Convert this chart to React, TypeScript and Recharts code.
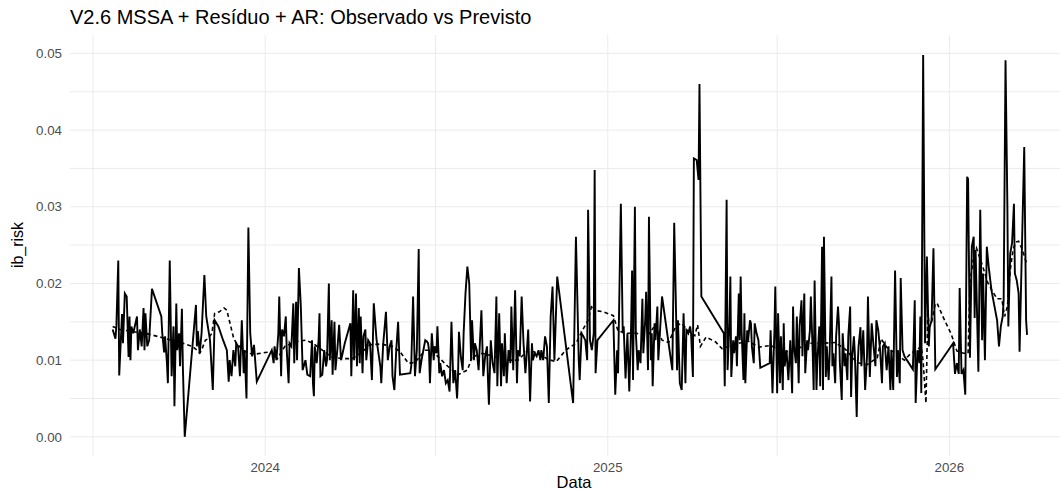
import { LineChart, Line, XAxis, YAxis, CartesianGrid } from 'recharts';

// série observada (ib_risk diário)
const datasObs = [
  '2023-07-22', '2023-07-25', '2023-07-26', '2023-07-28', '2023-07-29', '2023-08-01', '2023-08-02', '2023-08-04', '2023-08-06', '2023-08-08',
  '2023-08-09', '2023-08-10', '2023-08-11', '2023-08-13', '2023-08-17', '2023-08-18', '2023-08-20', '2023-08-22', '2023-08-24', '2023-08-25',
  '2023-08-26', '2023-08-28', '2023-08-30', '2023-09-02', '2023-09-12', '2023-09-13', '2023-09-15', '2023-09-16', '2023-09-18', '2023-09-19',
  '2023-09-21', '2023-09-23', '2023-09-25', '2023-09-26', '2023-09-28', '2023-09-29', '2023-10-01', '2023-10-02', '2023-10-04', '2023-10-05',
  '2023-10-07', '2023-10-19', '2023-10-20', '2023-10-21', '2023-10-23', '2023-10-25', '2023-10-28', '2023-10-30', '2023-11-03', '2023-11-06',
  '2023-11-08', '2023-11-12', '2023-11-17', '2023-11-21', '2023-11-23', '2023-11-24', '2023-11-26', '2023-11-28', '2023-11-30', '2023-12-01',
  '2023-12-03', '2023-12-05', '2023-12-07', '2023-12-09', '2023-12-10', '2023-12-12', '2023-12-14', '2023-12-16', '2023-12-18', '2023-12-20',
  '2023-12-23', '2024-01-08', '2024-01-10', '2024-01-11', '2024-01-13', '2024-01-15', '2024-01-16', '2024-01-18', '2024-01-19', '2024-01-21',
  '2024-01-23', '2024-01-24', '2024-01-26', '2024-01-27', '2024-01-29', '2024-01-31', '2024-02-01', '2024-02-03', '2024-02-04', '2024-02-06',
  '2024-02-08', '2024-02-10', '2024-02-13', '2024-02-15', '2024-02-18', '2024-02-20', '2024-02-21', '2024-02-22', '2024-02-23', '2024-02-25',
  '2024-02-27', '2024-02-28', '2024-02-29', '2024-03-02', '2024-03-04', '2024-03-06', '2024-03-07', '2024-03-09', '2024-03-10', '2024-03-12',
  '2024-03-13', '2024-03-15', '2024-03-16', '2024-03-18', '2024-03-20', '2024-03-22', '2024-03-23', '2024-03-26', '2024-04-01', '2024-04-02',
  '2024-04-03', '2024-04-04', '2024-04-05', '2024-04-07', '2024-04-08', '2024-04-10', '2024-04-11', '2024-04-12', '2024-04-14', '2024-04-15',
  '2024-04-17', '2024-04-18', '2024-04-20', '2024-04-22', '2024-04-24', '2024-04-26', '2024-04-29', '2024-05-03', '2024-05-04', '2024-05-06',
  '2024-05-09', '2024-05-11', '2024-05-13', '2024-05-15', '2024-05-16', '2024-05-18', '2024-05-20', '2024-05-22', '2024-05-24', '2024-06-04',
  '2024-06-05', '2024-06-07', '2024-06-09', '2024-06-11', '2024-06-13', '2024-06-14', '2024-06-16', '2024-06-18', '2024-06-20', '2024-06-22',
  '2024-06-23', '2024-06-24', '2024-06-25', '2024-06-27', '2024-06-29', '2024-06-30', '2024-07-02', '2024-07-03', '2024-07-05', '2024-07-06',
  '2024-07-08', '2024-07-10', '2024-07-12', '2024-07-14', '2024-07-16', '2024-07-18', '2024-07-20', '2024-07-22', '2024-07-24', '2024-07-25',
  '2024-07-26', '2024-07-28', '2024-07-30', '2024-07-31', '2024-08-02', '2024-08-04', '2024-08-06', '2024-08-08', '2024-08-09', '2024-08-11',
  '2024-08-12', '2024-08-14', '2024-08-16', '2024-08-17', '2024-08-19', '2024-08-21', '2024-08-23', '2024-08-25', '2024-08-26', '2024-08-27',
  '2024-08-29', '2024-08-31', '2024-09-02', '2024-09-04', '2024-09-05', '2024-09-07', '2024-09-09', '2024-09-10', '2024-09-12', '2024-09-13',
  '2024-09-15', '2024-09-17', '2024-09-19', '2024-09-20', '2024-09-22', '2024-09-24', '2024-09-26', '2024-09-27', '2024-09-29', '2024-10-01',
  '2024-10-03', '2024-10-05', '2024-10-06', '2024-10-08', '2024-10-10', '2024-10-12', '2024-10-13', '2024-10-15', '2024-10-17', '2024-10-19',
  '2024-10-21', '2024-10-22', '2024-10-24', '2024-10-26', '2024-10-28', '2024-10-30', '2024-11-01', '2024-11-03', '2024-11-05', '2024-11-08',
  '2024-11-25', '2024-11-28', '2024-12-01', '2024-12-02', '2024-12-04', '2024-12-06', '2024-12-08', '2024-12-10', '2024-12-11', '2024-12-13',
  '2024-12-15', '2024-12-17', '2024-12-18', '2024-12-19', '2024-12-21', '2025-01-07', '2025-01-09', '2025-01-11', '2025-01-12', '2025-01-15',
  '2025-01-17', '2025-01-18', '2025-01-20', '2025-01-22', '2025-01-24', '2025-01-26', '2025-01-27', '2025-01-28', '2025-01-30', '2025-01-31',
  '2025-02-02', '2025-02-03', '2025-02-05', '2025-02-07', '2025-02-08', '2025-02-10', '2025-02-11', '2025-02-13', '2025-02-14', '2025-02-16',
  '2025-02-17', '2025-02-18', '2025-02-20', '2025-02-21', '2025-02-23', '2025-02-24', '2025-02-28', '2025-03-11', '2025-03-13', '2025-03-15',
  '2025-03-16', '2025-03-17', '2025-03-19', '2025-03-21', '2025-03-22', '2025-03-23', '2025-03-25', '2025-03-26', '2025-03-28', '2025-03-30',
  '2025-03-31', '2025-04-02', '2025-04-03', '2025-04-06', '2025-04-08', '2025-04-09', '2025-04-11', '2025-05-05', '2025-05-06', '2025-05-08',
  '2025-05-09', '2025-05-11', '2025-05-12', '2025-05-13', '2025-05-15', '2025-05-16', '2025-05-18', '2025-05-19', '2025-05-21', '2025-05-22',
  '2025-05-23', '2025-05-24', '2025-05-26', '2025-05-27', '2025-05-28', '2025-05-30', '2025-05-31', '2025-06-02', '2025-06-03', '2025-06-04',
  '2025-06-06', '2025-06-07', '2025-06-09', '2025-06-11', '2025-06-13', '2025-06-23', '2025-06-24', '2025-06-26', '2025-06-28', '2025-06-29',
  '2025-07-01', '2025-07-02', '2025-07-04', '2025-07-05', '2025-07-07', '2025-07-08', '2025-07-09', '2025-07-11', '2025-07-13', '2025-07-15',
  '2025-07-17', '2025-07-18', '2025-07-19', '2025-07-21', '2025-07-22', '2025-07-24', '2025-07-25', '2025-07-27', '2025-07-28', '2025-07-30',
  '2025-07-31', '2025-08-02', '2025-08-03', '2025-08-05', '2025-08-06', '2025-08-08', '2025-08-09', '2025-08-10', '2025-08-12', '2025-08-13',
  '2025-08-15', '2025-08-16', '2025-08-18', '2025-08-19', '2025-08-20', '2025-08-22', '2025-08-23', '2025-08-25', '2025-08-26', '2025-08-28',
  '2025-08-29', '2025-08-30', '2025-09-01', '2025-09-02', '2025-09-04', '2025-09-05', '2025-09-06', '2025-09-08', '2025-09-09', '2025-09-11',
  '2025-09-12', '2025-09-14', '2025-09-15', '2025-09-17', '2025-09-18', '2025-09-19', '2025-09-21', '2025-09-22', '2025-09-24', '2025-09-25',
  '2025-09-26', '2025-09-28', '2025-09-29', '2025-10-01', '2025-10-03', '2025-10-05', '2025-10-06', '2025-10-08', '2025-10-10', '2025-10-12',
  '2025-10-14', '2025-10-15', '2025-10-17', '2025-10-19', '2025-10-21', '2025-10-22', '2025-10-24', '2025-10-26', '2025-10-28', '2025-10-30',
  '2025-10-31', '2025-11-02', '2025-11-04', '2025-11-06', '2025-11-07', '2025-11-09', '2025-11-10', '2025-11-12', '2025-11-14', '2025-11-23',
  '2025-11-25', '2025-11-26', '2025-11-28', '2025-11-30', '2025-12-01', '2025-12-02', '2025-12-04', '2025-12-06', '2025-12-08', '2025-12-10',
  '2025-12-11', '2025-12-13', '2025-12-15', '2025-12-17', '2026-01-05', '2026-01-07', '2026-01-09', '2026-01-11', '2026-01-12', '2026-01-14',
  '2026-01-16', '2026-01-18', '2026-01-20', '2026-01-21', '2026-01-23', '2026-01-25', '2026-01-27', '2026-01-28', '2026-01-29', '2026-02-01',
  '2026-02-03', '2026-02-05', '2026-02-06', '2026-02-08', '2026-02-10', '2026-02-12', '2026-02-15', '2026-02-21', '2026-02-23', '2026-02-25',
  '2026-02-27', '2026-02-28', '2026-03-02', '2026-03-04', '2026-03-05', '2026-03-07', '2026-03-09', '2026-03-11', '2026-03-12', '2026-03-14',
  '2026-03-16', '2026-03-17', '2026-03-22', '2026-03-24', '2026-03-25',
];

const ibRiskObs = [
  0.0140, 0.0128, 0.0145, 0.0230, 0.0080, 0.0160, 0.0122, 0.0187, 0.0183, 0.0104,
  0.0157, 0.0100, 0.0144, 0.0135, 0.0157, 0.0113, 0.0140, 0.0118, 0.0168, 0.0113,
  0.0161, 0.0118, 0.0126, 0.0193, 0.0157, 0.0135, 0.0110, 0.0131, 0.0096, 0.0070,
  0.0230, 0.0079, 0.0144, 0.0040, 0.0174, 0.0113, 0.0135, 0.0092, 0.0167, 0.0092,
  0.0000, 0.0172, 0.0118, 0.0138, 0.0109, 0.0135, 0.0211, 0.0157, 0.0126, 0.0061,
  0.0152, 0.0144, 0.0126, 0.0113, 0.0072, 0.0100, 0.0079, 0.0113, 0.0092, 0.0122,
  0.0118, 0.0079, 0.0152, 0.0083, 0.0113, 0.0050, 0.0273, 0.0135, 0.0105, 0.0120,
  0.0072, 0.0113, 0.0096, 0.0118, 0.0100, 0.0135, 0.0183, 0.0079, 0.0140, 0.0131,
  0.0157, 0.0113, 0.0070, 0.0122, 0.0118, 0.0174, 0.0096, 0.0176, 0.0100, 0.0220,
  0.0172, 0.0087, 0.0100, 0.0081, 0.0079, 0.0126, 0.0070, 0.0053, 0.0118, 0.0096,
  0.0126, 0.0161, 0.0079, 0.0081, 0.0113, 0.0092, 0.0100, 0.0200, 0.0100, 0.0152,
  0.0081, 0.0150, 0.0087, 0.0113, 0.0146, 0.0100, 0.0105, 0.0122, 0.0148, 0.0079,
  0.0135, 0.0191, 0.0100, 0.0187, 0.0092, 0.0168, 0.0096, 0.0157, 0.0083, 0.0131,
  0.0140, 0.0100, 0.0126, 0.0122, 0.0074, 0.0174, 0.0126, 0.0092, 0.0070, 0.0120,
  0.0163, 0.0100, 0.0118, 0.0126, 0.0079, 0.0061, 0.0113, 0.0150, 0.0081, 0.0083,
  0.0092, 0.0183, 0.0079, 0.0113, 0.0245, 0.0083, 0.0100, 0.0113, 0.0126, 0.0124,
  0.0122, 0.0113, 0.0070, 0.0135, 0.0100, 0.0118, 0.0109, 0.0144, 0.0083, 0.0096,
  0.0079, 0.0087, 0.0070, 0.0074, 0.0059, 0.0150, 0.0070, 0.0087, 0.0050, 0.0079,
  0.0137, 0.0105, 0.0087, 0.0135, 0.0187, 0.0222, 0.0200, 0.0100, 0.0152, 0.0100,
  0.0122, 0.0113, 0.0087, 0.0113, 0.0165, 0.0079, 0.0105, 0.0118, 0.0074, 0.0042,
  0.0126, 0.0096, 0.0083, 0.0183, 0.0066, 0.0161, 0.0066, 0.0122, 0.0079, 0.0135,
  0.0070, 0.0113, 0.0096, 0.0170, 0.0087, 0.0191, 0.0070, 0.0113, 0.0105, 0.0183,
  0.0122, 0.0083, 0.0100, 0.0140, 0.0046, 0.0122, 0.0100, 0.0109, 0.0105, 0.0113,
  0.0100, 0.0113, 0.0100, 0.0131, 0.0118, 0.0044, 0.0157, 0.0196, 0.0100, 0.0209,
  0.0044, 0.0261, 0.0100, 0.0074, 0.0135, 0.0131, 0.0126, 0.0100, 0.0296, 0.0126,
  0.0113, 0.0135, 0.0348, 0.0083, 0.0126, 0.0152, 0.0055, 0.0113, 0.0083, 0.0304,
  0.0135, 0.0144, 0.0076, 0.0135, 0.0059, 0.0148, 0.0217, 0.0074, 0.0300, 0.0135,
  0.0087, 0.0113, 0.0096, 0.0180, 0.0109, 0.0152, 0.0189, 0.0087, 0.0287, 0.0100,
  0.0135, 0.0066, 0.0148, 0.0126, 0.0170, 0.0100, 0.0183, 0.0087, 0.0279, 0.0161,
  0.0087, 0.0152, 0.0070, 0.0061, 0.0109, 0.0161, 0.0070, 0.0139, 0.0135, 0.0144,
  0.0135, 0.0078, 0.0363, 0.0361, 0.0335, 0.0460, 0.0183, 0.0135, 0.0066, 0.0309,
  0.0087, 0.0148, 0.0209, 0.0078, 0.0126, 0.0109, 0.0131, 0.0092, 0.0187, 0.0126,
  0.0209, 0.0139, 0.0074, 0.0161, 0.0070, 0.0139, 0.0126, 0.0152, 0.0148, 0.0118,
  0.0096, 0.0148, 0.0135, 0.0126, 0.0090, 0.0096, 0.0139, 0.0057, 0.0135, 0.0196,
  0.0057, 0.0161, 0.0070, 0.0131, 0.0061, 0.0148, 0.0092, 0.0113, 0.0074, 0.0126,
  0.0057, 0.0170, 0.0118, 0.0096, 0.0157, 0.0070, 0.0144, 0.0178, 0.0105, 0.0187,
  0.0083, 0.0126, 0.0113, 0.0139, 0.0183, 0.0109, 0.0061, 0.0204, 0.0061, 0.0100,
  0.0144, 0.0066, 0.0248, 0.0061, 0.0261, 0.0078, 0.0118, 0.0074, 0.0105, 0.0209,
  0.0092, 0.0109, 0.0070, 0.0131, 0.0170, 0.0148, 0.0096, 0.0048, 0.0135, 0.0092,
  0.0109, 0.0074, 0.0131, 0.0170, 0.0052, 0.0100, 0.0131, 0.0109, 0.0026, 0.0092,
  0.0118, 0.0143, 0.0092, 0.0139, 0.0061, 0.0105, 0.0183, 0.0078, 0.0148, 0.0118,
  0.0092, 0.0152, 0.0139, 0.0113, 0.0070, 0.0118, 0.0122, 0.0087, 0.0118, 0.0061,
  0.0113, 0.0061, 0.0217, 0.0078, 0.0113, 0.0070, 0.0207, 0.0113, 0.0105, 0.0088,
  0.0178, 0.0044, 0.0113, 0.0096, 0.0157, 0.0057, 0.0498, 0.0122, 0.0235, 0.0118,
  0.0143, 0.0152, 0.0246, 0.0088, 0.0122, 0.0082, 0.0096, 0.0082, 0.0194, 0.0082,
  0.0087, 0.0055, 0.0339, 0.0336, 0.0103, 0.0248, 0.0261, 0.0155, 0.0244, 0.0085,
  0.0296, 0.0126, 0.0213, 0.0100, 0.0248, 0.0222, 0.0191, 0.0152, 0.0118, 0.0144,
  0.0157, 0.0178, 0.0491, 0.0300, 0.0144, 0.0239, 0.0253, 0.0304, 0.0213, 0.0204,
  0.0187, 0.0111, 0.0378, 0.0152, 0.0133,
];

// previsto pelo modelo (MSSA + resíduo + AR)
const datasPrev = [
  '2023-07-22', '2023-07-30', '2023-08-13', '2023-08-26', '2023-09-11', '2023-09-23', '2023-10-05', '2023-10-15', '2023-10-20', '2023-10-23',
  '2023-10-25', '2023-10-29', '2023-11-01', '2023-11-05', '2023-11-08', '2023-11-13', '2023-11-18', '2023-11-21', '2023-11-24', '2023-11-28',
  '2023-12-01', '2023-12-06', '2023-12-13', '2023-12-22', '2024-01-01', '2024-01-08', '2024-01-14', '2024-01-22', '2024-02-02', '2024-02-13',
  '2024-02-21', '2024-03-02', '2024-03-12', '2024-03-23', '2024-04-03', '2024-04-13', '2024-04-22', '2024-05-03', '2024-05-16', '2024-05-24',
  '2024-06-02', '2024-06-09', '2024-06-20', '2024-06-27', '2024-07-04', '2024-07-14', '2024-07-25', '2024-08-04', '2024-08-09', '2024-08-20',
  '2024-09-03', '2024-09-13', '2024-09-27', '2024-10-08', '2024-10-19', '2024-10-29', '2024-11-07', '2024-11-17', '2024-11-28', '2024-12-05',
  '2024-12-11', '2024-12-15', '2024-12-18', '2024-12-27', '2025-01-07', '2025-01-12', '2025-01-23', '2025-02-01', '2025-02-12', '2025-02-21',
  '2025-02-28', '2025-03-07', '2025-03-15', '2025-03-21', '2025-03-28', '2025-04-04', '2025-04-07', '2025-04-10', '2025-04-16', '2025-04-26',
  '2025-05-03', '2025-05-17', '2025-05-31', '2025-06-11', '2025-06-24', '2025-07-09', '2025-07-23', '2025-08-04', '2025-08-18', '2025-09-01',
  '2025-09-12', '2025-09-24', '2025-10-05', '2025-10-16', '2025-10-20', '2025-10-26', '2025-11-06', '2025-11-14', '2025-11-21', '2025-11-27',
  '2025-12-02', '2025-12-04', '2025-12-06', '2025-12-07', '2025-12-09', '2025-12-10', '2025-12-13', '2025-12-17', '2025-12-19', '2025-12-25',
  '2026-01-03', '2026-01-09', '2026-01-16', '2026-01-21', '2026-01-23', '2026-01-26', '2026-01-30', '2026-02-03', '2026-02-07', '2026-02-11',
  '2026-02-16', '2026-02-21', '2026-02-26', '2026-03-01', '2026-03-04', '2026-03-07', '2026-03-10', '2026-03-13', '2026-03-16', '2026-03-20',
  '2026-03-23', '2026-03-25',
];

const ibRiskPrev = [
  0.0144, 0.0140, 0.0137, 0.0135, 0.0130, 0.0126, 0.0122, 0.0118, 0.0113, 0.0109,
  0.0113, 0.0126, 0.0128, 0.0135, 0.0161, 0.0163, 0.0168, 0.0165, 0.0150, 0.0130,
  0.0122, 0.0116, 0.0109, 0.0108, 0.0110, 0.0111, 0.0102, 0.0118, 0.0124, 0.0126,
  0.0122, 0.0113, 0.0104, 0.0102, 0.0102, 0.0110, 0.0120, 0.0121, 0.0118, 0.0111,
  0.0096, 0.0097, 0.0113, 0.0113, 0.0104, 0.0092, 0.0081, 0.0087, 0.0104, 0.0109,
  0.0104, 0.0100, 0.0100, 0.0113, 0.0109, 0.0101, 0.0098, 0.0113, 0.0122, 0.0139,
  0.0152, 0.0172, 0.0165, 0.0163, 0.0158, 0.0138, 0.0135, 0.0135, 0.0131, 0.0146,
  0.0126, 0.0123, 0.0145, 0.0148, 0.0138, 0.0132, 0.0146, 0.0118, 0.0130, 0.0124,
  0.0115, 0.0121, 0.0125, 0.0117, 0.0119, 0.0110, 0.0115, 0.0122, 0.0122, 0.0123,
  0.0114, 0.0097, 0.0094, 0.0103, 0.0128, 0.0117, 0.0107, 0.0100, 0.0109, 0.0113,
  0.0118, 0.0098, 0.0061, 0.0044, 0.0165, 0.0150, 0.0150, 0.0174, 0.0174, 0.0157,
  0.0134, 0.0112, 0.0109, 0.0109, 0.0200, 0.0228, 0.0246, 0.0232, 0.0217, 0.0201,
  0.0190, 0.0180, 0.0180, 0.0157, 0.0170, 0.0217, 0.0244, 0.0254, 0.0255, 0.0244,
  0.0232, 0.0225,
];

const marcasX = ['2023-07-01', '2024-01-01', '2024-07-01', '2025-01-01', '2025-07-01', '2026-01-01'];
const marcasY = [0, 0.005, 0.01, 0.015, 0.02, 0.025, 0.03, 0.035, 0.04, 0.045, 0.05];

const observado = datasObs.map((d, i) => ({ data: Date.parse(d), valor: ibRiskObs[i] }));
const previsto = datasPrev.map((d, i) => ({ data: Date.parse(d), valor: ibRiskPrev[i] }));

const fonte = '"Liberation Sans", Arial, sans-serif';
const tickStyle = { fill: '#4D4D4D', fontSize: 13.3, fontFamily: fonte };

const formatAno = (t: number) => {
  const d = new Date(t);
  return d.getUTCMonth() === 0 ? String(d.getUTCFullYear()) : '';
};
const formatY = (v: number) => (Math.round(v * 1000) % 10 === 0 ? v.toFixed(2) : '');

export default function App() {
  return (
    <div style={{ position: 'absolute', left: 0, top: 0, width: 1060, height: 490, background: '#fff', fontFamily: fonte }}>
      <div style={{ position: 'absolute', left: 70, top: 7, fontSize: 20, lineHeight: '20px', whiteSpace: 'nowrap', color: '#000' }}>
        V2.6 MSSA + Resíduo + AR: Observado vs Previsto
      </div>
      <div
        style={{
          position: 'absolute', left: 18, top: 245, fontSize: 16, lineHeight: '16px', whiteSpace: 'nowrap',
          transform: 'translate(-50%, -50%) rotate(-90deg)', color: '#000',
        }}
      >
        ib_risk
      </div>
      <div
        style={{
          position: 'absolute', left: 574, top: 474, fontSize: 16.5, lineHeight: '16.5px',
          transform: 'translateX(-50%)', color: '#000',
        }}
      >
        Data
      </div>
      <LineChart width={1060} height={490} margin={{ top: 35, right: 0, bottom: 0, left: 0 }}>
        <CartesianGrid stroke="#EBEBEB" strokeWidth={1} syncWithTicks />
        <XAxis
          type="number"
          dataKey="data"
          domain={[Date.UTC(2023, 5, 6, 10), Date.UTC(2026, 3, 29, 5)]}
          allowDataOverflow
          ticks={marcasX.map(d => Date.parse(d))}
          tickFormatter={formatAno}
          interval={0}
          height={34}
          axisLine={false}
          tickLine={false}
          tickSize={0}
          tickMargin={7}
          tick={tickStyle}
        />
        <YAxis
          type="number"
          domain={[-0.0025, 0.0524]}
          allowDataOverflow
          ticks={marcasY}
          tickFormatter={formatY}
          interval={0}
          width={70}
          axisLine={false}
          tickLine={false}
          tickSize={0}
          tickMargin={8}
          tick={tickStyle}
        />
        <Line
          data={observado}
          dataKey="valor"
          type="linear"
          stroke="#000"
          strokeWidth={1.9}
          dot={false}
          isAnimationActive={false}
        />
        <Line
          data={previsto}
          dataKey="valor"
          type="linear"
          stroke="#000"
          strokeWidth={1.6}
          strokeDasharray="4 3"
          dot={false}
          isAnimationActive={false}
        />
      </LineChart>
    </div>
  );
}
